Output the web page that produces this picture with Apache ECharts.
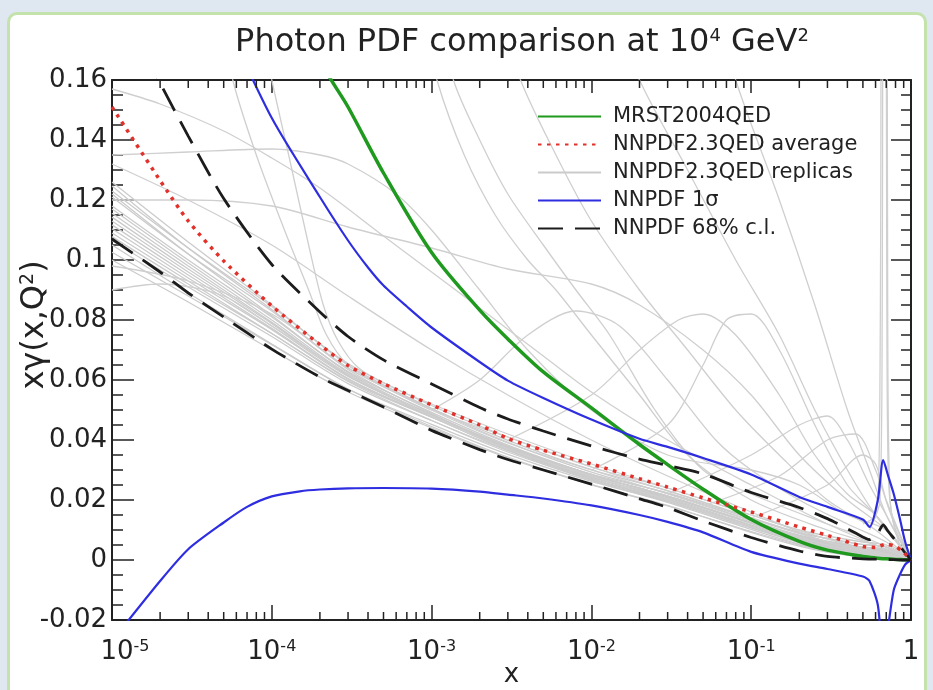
<!DOCTYPE html>
<html><head><meta charset="utf-8">
<script src="https://cdn.jsdelivr.net/npm/echarts@6/dist/echarts.min.js"></script>
<style>
html,body{margin:0;padding:0;background:#dfe8f1;width:933px;height:690px;overflow:hidden;}
#frame{position:absolute;left:7px;top:12px;width:920px;height:700px;border:3px solid #c4e2ab;border-radius:10px;background:#fff;box-sizing:border-box;}
#chart{position:absolute;left:0;top:0;width:933px;height:690px;}
</style></head><body><div id="frame"></div><div id="chart"></div>
<script>
// ---- axis settings / tick labels ----
const xMin = 1e-5, xMax = 1;
const yMin = -0.02, yMax = 0.16, yStep = 0.02;
const xTickExps = [-5, -4, -3, -2, -1, 0];
const xTickLabels = ['{f|10}{s|-5}', '10{s|-4}', '10{s|-3}', '10{s|-2}', '10{s|-1}', '1'];
const legendNames = ['MRST2004QED', 'NNPDF2.3QED average', 'NNPDF2.3QED replicas', 'NNPDF 1\u03c3', 'NNPDF 68% c.l.'];

// ---- MRST2004QED ----
const mrstX = [1e-4,2e-4,3e-4,5e-4,1e-3,2e-3,3e-3,5e-3,0.01,0.02,0.03,0.05,0.1,0.2,0.3,0.5,0.6,0.7,0.8,0.9,1];
const mrstY = [0.215,0.167,0.151,0.129,0.1025,0.0833,0.0737,0.0627,0.0507,0.0385,0.0318,0.0236,0.0135,0.0062,0.0033,0.0012,0.0007,0.0004,0.0002,0.0001,0];

// ---- NNPDF average ----
const avgX = [1e-5,2e-5,3e-5,5e-5,1e-4,2e-4,3e-4,5e-4,1e-3,2e-3,3e-3,5e-3,0.01,0.02,0.03,0.05,0.1,0.2,0.3,0.5,0.6,0.7,0.8,0.9,1];
const avgY = [0.151,0.1265,0.113,0.0997,0.0847,0.0718,0.0648,0.0588,0.0517,0.045,0.0405,0.0366,0.032,0.0271,0.0243,0.0207,0.016,0.011,0.0082,0.0045,0.0042,0.0053,0.0045,0.0025,0];

// ---- NNPDF 68% c.l. ----
const clUpperX = [1e-5,2e-5,3e-5,5e-5,1e-4,2e-4,3e-4,5e-4,1e-3,2e-3,3e-3,5e-3,0.01,0.02,0.03,0.05,0.1,0.2,0.3,0.45,0.55,0.62,0.67,0.72,0.8,0.9,1];
const clUpperY = [0.19,0.159,0.1413,0.1205,0.0985,0.0827,0.0745,0.0667,0.0587,0.0508,0.047,0.043,0.038,0.0336,0.0315,0.0287,0.0225,0.0175,0.0138,0.009,0.0068,0.009,0.0117,0.0095,0.0065,0.003,0];
const clLowerX = [1e-5,2e-5,3e-5,5e-5,1e-4,2e-4,3e-4,5e-4,1e-3,2e-3,3e-3,5e-3,0.01,0.02,0.03,0.05,0.1,0.2,0.3,0.5,0.6,0.7,0.8,0.9,1];
const clLowerY = [0.107,0.096,0.089,0.081,0.0703,0.061,0.0565,0.051,0.0432,0.0368,0.0335,0.030,0.0253,0.0204,0.0175,0.013,0.0075,0.003,0.0012,0.0004,0.0003,0.0002,0.0001,0,0];

// ---- NNPDF 1 sigma ----
const sigUpperX = [5e-5,1e-4,2e-4,3e-4,4e-4,5e-4,7e-4,1e-3,2e-3,3e-3,5e-3,0.01,0.02,0.03,0.05,0.1,0.2,0.3,0.5,0.55,0.62,0.67,0.72,0.78,0.85,0.92,1];
const sigUpperY = [0.181,0.1473,0.121,0.1065,0.0975,0.0915,0.0845,0.0775,0.066,0.0598,0.054,0.0468,0.0404,0.0377,0.034,0.0285,0.021,0.0177,0.0135,0.011,0.02,0.0333,0.028,0.022,0.014,0.006,0];
const sigLowerX = [1e-5,2e-5,3e-5,5e-5,7e-5,1e-4,1.5e-4,2e-4,3e-4,5e-4,1e-3,2e-3,3e-3,5e-3,0.01,0.02,0.03,0.05,0.1,0.2,0.3,0.5,0.55,0.62,0.67,0.72,0.78,0.85,0.92,1];
const sigLowerY = [-0.027,-0.007,0.0036,0.0125,0.0177,0.0212,0.0229,0.0235,0.0239,0.024,0.0238,0.0228,0.0218,0.0205,0.0182,0.015,0.0127,0.0092,0.0027,-0.0012,-0.003,-0.0055,-0.007,-0.015,-0.032,-0.022,-0.01,-0.005,-0.0015,0];

// ---- NNPDF replicas: dense band (values on bandX) ----
const bandX = [1e-5,3e-5,1e-4,3e-4,1e-3,3e-3,0.01,0.03,0.1,0.2,0.3,0.5,0.7,1];
const replicaBand = [
  [0.100,0.086,0.070,0.056,0.044,0.034,0.025,0.018,0.0095,0.005,0.003,0.001,0.0004,0],
  [0.105,0.089,0.072,0.057,0.0445,0.0343,0.0252,0.0182,0.0092,0.0046,0.0026,0.0009,0.0003,0],
  [0.109,0.093,0.0755,0.0595,0.0465,0.036,0.0268,0.0198,0.011,0.0062,0.0042,0.0023,0.0016,0],
  [0.113,0.096,0.078,0.0612,0.0484,0.038,0.0285,0.0214,0.0125,0.0078,0.0058,0.0038,0.0031,0],
  [0.117,0.099,0.080,0.062,0.0485,0.0375,0.0277,0.0204,0.0114,0.0066,0.0047,0.0028,0.002,0],
  [0.121,0.102,0.083,0.064,0.0505,0.0399,0.0301,0.0231,0.0141,0.0092,0.0072,0.0051,0.0043,0],
  [0.126,0.106,0.085,0.065,0.0505,0.0392,0.0293,0.0222,0.0132,0.0083,0.0063,0.0043,0.0035,0],
  [0.123,0.104,0.0845,0.0655,0.0515,0.041,0.031,0.024,0.015,0.010,0.008,0.006,0.005,0],
  [0.1117,0.095,0.0772,0.0605,0.0476,0.0372,0.0277,0.0207,0.0117,0.0070,0.0050,0.0030,0.0024,0],
  [0.1156,0.098,0.0792,0.0615,0.0478,0.0368,0.0269,0.0197,0.0107,0.0058,0.0037,0.0018,0.0012,0],
  [0.1065,0.091,0.0745,0.0588,0.0465,0.0365,0.0275,0.021,0.0125,0.008,0.006,0.0043,0.0037,0],
  [0.118,0.100,0.081,0.0628,0.0492,0.0383,0.0285,0.0212,0.0122,0.0073,0.0053,0.0033,0.0026,0],
  [0.1026,0.088,0.0718,0.057,0.0452,0.0352,0.0262,0.0195,0.0108,0.0064,0.0045,0.0027,0.0021,0],
  [0.1143,0.097,0.0788,0.0615,0.0484,0.0378,0.0283,0.0213,0.0123,0.0075,0.0055,0.0035,0.0029,0],
  [0.1078,0.092,0.0755,0.0598,0.0476,0.0378,0.0286,0.0224,0.0138,0.0090,0.0072,0.0052,0.0044,0],
  [0.122,0.102,0.0815,0.0625,0.048,0.0365,0.0265,0.0192,0.0102,0.0053,0.0033,0.0015,0.0009,0],
  [0.1104,0.094,0.0768,0.0603,0.0478,0.0375,0.0282,0.0213,0.0124,0.0078,0.0058,0.0038,0.0032,0],
  [0.1247,0.104,0.0835,0.0635,0.0488,0.0372,0.0272,0.0201,0.011,0.0063,0.0043,0.0024,0.0017,0]
];

// ---- NNPDF replicas: outliers ([x, y] pairs) ----
const replicaOutliers = [
  [[1e-5,0.157],[2e-5,0.152],[5e-5,0.143],[1e-4,0.134],[2e-4,0.124],[5e-4,0.108],[1e-3,0.096],[2e-3,0.084],[5e-3,0.068],[0.01,0.056],[0.03,0.04],[0.1,0.025],[0.3,0.012],[0.6,0.005],[1,0]],
  [[1e-5,0.135],[3e-5,0.136],[1e-4,0.137],[2e-4,0.135],[3e-4,0.132],[6e-4,0.122],[1e-3,0.11],[2e-3,0.09],[4e-3,0.07],[0.01,0.05],[0.03,0.035],[0.1,0.03],[0.2,0.025],[0.4,0.015],[0.7,0.01],[1,0]],
  [[1e-5,0.12],[3e-5,0.12],[1e-4,0.118],[3e-4,0.111],[1e-3,0.104],[3e-3,0.097],[0.01,0.092],[0.02,0.085],[0.05,0.07],[0.1,0.055],[0.2,0.035],[0.4,0.02],[0.7,0.01],[1,0]],
  [[1e-5,0.132],[3e-5,0.12],[1e-4,0.105],[3e-4,0.088],[1e-3,0.07],[3e-3,0.055],[0.01,0.04],[0.03,0.028],[0.1,0.016],[0.3,0.006],[1,0]],
  [[1e-5,0.098],[3e-5,0.093],[1e-4,0.082],[3e-4,0.064],[1e-3,0.05],[3e-3,0.039],[0.01,0.03],[0.03,0.022],[0.1,0.013],[0.3,0.005],[1,0]],
  [[1e-5,0.09],[2e-5,0.092],[5e-5,0.088],[1e-4,0.078],[3e-4,0.062],[1e-3,0.048],[3e-3,0.037],[0.01,0.028],[0.03,0.02],[0.1,0.011],[0.3,0.004],[1,0]],
  [[4e-5,0.2],[5.7e-5,0.16],[8e-5,0.135],[1.2e-4,0.11],[1.7e-4,0.09],[2.2e-4,0.075],[3e-4,0.065],[5e-4,0.058],[1e-3,0.05],[3e-3,0.041],[0.01,0.031],[0.03,0.023],[0.1,0.014],[0.3,0.006],[1,0]],
  [[7e-5,0.2],[1e-4,0.16],[1.3e-4,0.133],[1.7e-4,0.105],[2.1e-4,0.085],[2.6e-4,0.073],[3.5e-4,0.064],[6e-4,0.057],[1e-3,0.052],[3e-3,0.042],[0.01,0.032],[0.03,0.024],[0.1,0.015],[0.3,0.007],[1,0]],
  [[7e-4,0.2],[1.08e-3,0.16],[1.6e-3,0.135],[2.5e-3,0.115],[4e-3,0.1],[6e-3,0.09],[0.01,0.075],[0.02,0.055],[0.04,0.035],[0.1,0.02],[0.3,0.01],[0.6,0.005],[1,0]],
  [[9e-4,0.2],[1.37e-3,0.16],[2e-3,0.14],[3e-3,0.122],[5e-3,0.105],[8e-3,0.09],[0.013,0.075],[0.025,0.05],[0.05,0.03],[0.1,0.022],[0.3,0.012],[0.6,0.006],[1,0]],
  [[2e-3,0.2],[3.6e-3,0.16],[6e-3,0.135],[0.01,0.113],[0.02,0.09],[0.04,0.07],[0.08,0.05],[0.15,0.035],[0.3,0.02],[0.6,0.01],[1,0]],
  [[0.01,0.2],[0.02,0.16],[0.04,0.13],[0.08,0.1],[0.15,0.075],[0.25,0.05],[0.4,0.03],[0.6,0.015],[1,0]],
  [[0.05,0.2],[0.08,0.16],[0.15,0.12],[0.25,0.085],[0.4,0.05],[0.55,0.03],[0.7,0.015],[1,0]],
  [[1e-3,0.05],[2e-3,0.06],[4e-3,0.075],[8e-3,0.083],[0.015,0.078],[0.03,0.06],[0.06,0.04],[0.1,0.03],[0.2,0.02],[0.4,0.012],[0.7,0.006],[1,0]],
  [[3e-3,0.04],[0.01,0.055],[0.02,0.07],[0.035,0.08],[0.05,0.082],[0.08,0.075],[0.15,0.055],[0.25,0.035],[0.4,0.022],[0.6,0.015],[1,0]],
  [[0.01,0.03],[0.03,0.045],[0.05,0.065],[0.07,0.08],[0.1,0.082],[0.15,0.07],[0.25,0.045],[0.4,0.025],[0.6,0.015],[1,0]],
  [[0.03,0.022],[0.1,0.035],[0.2,0.045],[0.3,0.048],[0.4,0.04],[0.55,0.025],[0.7,0.015],[1,0]],
  [[0.05,0.018],[0.15,0.028],[0.3,0.04],[0.45,0.042],[0.6,0.03],[0.75,0.015],[1,0]],
  [[0.1,0.014],[0.3,0.025],[0.5,0.035],[0.6,0.032],[0.7,0.02],[1,0]],
  [[0.5,0.012],[0.6,0.015],[0.63,0.03],[0.645,0.1],[0.66,0.25],[0.69,0.25],[0.705,0.1],[0.72,0.03],[0.78,0.012],[1,0]],
  [[0.55,0.01],[0.64,0.02],[0.66,0.08],[0.675,0.3],[0.7,0.3],[0.715,0.08],[0.74,0.02],[0.85,0.005],[1,0]]
];

// ---- build ----
const FONT = 'DejaVu Sans';
const TXT = '#222';
const pairs = (xs, ys) => xs.map((x, i) => [x, ys[i]]);
const xMinorTicks = [];
for (let e = -5; e < 0; e++) for (let k = 2; k <= 9; k++) xMinorTicks.push(k * Math.pow(10, e));

function lineSeries(name, data, color, width, type, z, smooth) {
  return {
    type: 'line', name, data, xAxisIndex: 0, yAxisIndex: 0,
    showSymbol: false, symbol: 'none', smooth: smooth, silent: true, z,
    lineStyle: { color, width, type, cap: 'butt' },
    itemStyle: { color },
    emphasis: { disabled: true }
  };
}

const series = [];
replicaBand.forEach(ys => series.push(lineSeries(legendNames[2], pairs(bandX, ys), '#cbcbcb', 1.3, 'solid', 1, 0.3)));
replicaOutliers.forEach(p => series.push(lineSeries(legendNames[2], p, '#cfcfcf', 1.3, 'solid', 1, 0.3)));
series.push(lineSeries(legendNames[0], pairs(mrstX, mrstY), '#1f9a1f', 3.5, 'solid', 3, 0.3));
series.push(lineSeries(legendNames[3], pairs(sigUpperX, sigUpperY), '#2e2ee0', 2.2, 'solid', 3, 0.25));
series.push(lineSeries(legendNames[3], pairs(sigLowerX, sigLowerY), '#2e2ee0', 2.2, 'solid', 3, 0.25));
series.push(lineSeries(legendNames[4], pairs(clUpperX, clUpperY), '#1c1c1c', 2.8, [25, 12], 4, 0.25));
series.push(lineSeries(legendNames[4], pairs(clLowerX, clLowerY), '#1c1c1c', 2.8, [25, 12], 4, 0.25));
series.push(lineSeries(legendNames[1], pairs(avgX, avgY), '#e2302a', 3.5, [3.5, 5.5], 5, 0.25));
series.push({
  type: 'custom', name: 'xMinorTicks', silent: true, z: 10, clip: false,
  data: xMinorTicks.map(v => [v, yMin]),
  renderItem: (params, api) => {
    const x = api.value(0);
    const b = api.coord([x, yMin]);
    const t = api.coord([x, yMax]);
    return { type: 'group', children: [
      { type: 'line', shape: { x1: b[0], y1: b[1], x2: b[0], y2: b[1] - 8 }, style: { stroke: TXT, lineWidth: 1.5 } },
      { type: 'line', shape: { x1: t[0], y1: t[1], x2: t[0], y2: t[1] + 8 }, style: { stroke: TXT, lineWidth: 1.5 } }
    ]};
  }
});

const axisLine = { show: true, onZero: false, lineStyle: { color: TXT, width: 2 } };
const xRich = {
  s: { fontFamily: FONT, fontSize: 16, verticalAlign: 'top', color: TXT },
  f: { fontFamily: FONT, fontSize: 26, color: TXT, padding: [0, 0, 0, 26] }
};

const option = {
  animation: false,
  backgroundColor: 'transparent',
  title: {
    text: 'Photon PDF comparison at 10{s|4} GeV{s|2}',
    left: 517, top: 22, textAlign: 'center',
    textStyle: { fontFamily: FONT, fontSize: 32, fontWeight: 'normal', color: TXT,
      rich: { s: { fontFamily: FONT, fontSize: 18, verticalAlign: 'top', color: TXT } } }
  },
  legend: {
    data: legendNames, orient: 'vertical', left: 537, top: 106, padding: 0,
    itemWidth: 63, itemHeight: 20, itemGap: 7, selectedMode: false,
    itemStyle: { opacity: 0 },
    textStyle: { fontFamily: FONT, fontSize: 21, color: TXT, padding: [0, 0, 0, 7] }
  },
  grid: { left: 112, right: 22, top: 80, bottom: 70, containLabel: false, outerBoundsMode: 'none' },
  xAxis: [
    { type: 'log', logBase: 10, min: xMin, max: xMax, position: 'bottom',
      axisLine, splitLine: { show: false },
      axisTick: { show: true, inside: true, length: 15, lineStyle: { color: TXT, width: 1.5 } },
      axisLabel: { margin: 19, color: TXT, fontFamily: FONT, fontSize: 26, showMinLabel: true, showMaxLabel: true,
        formatter: v => { const e = Math.round(Math.log10(v)); const i = xTickExps.indexOf(e); return i >= 0 ? xTickLabels[i] : ''; },
        rich: xRich },
      name: 'x', nameLocation: 'middle', nameGap: 42, nameMoveOverlap: false,
      nameTextStyle: { fontFamily: FONT, fontSize: 26, color: TXT } },
    { type: 'log', logBase: 10, min: xMin, max: xMax, position: 'top',
      axisLine, splitLine: { show: false }, axisLabel: { show: false },
      axisTick: { show: true, inside: true, length: 13, lineStyle: { color: TXT, width: 1.5 } } }
  ],
  yAxis: [
    { type: 'value', min: yMin, max: yMax, interval: yStep, position: 'left',
      axisLine, splitLine: { show: false },
      axisTick: { show: true, inside: true, length: 22, lineStyle: { color: TXT, width: 1.5 } },
      minorTick: { show: true, splitNumber: 4, length: 11, lineStyle: { color: TXT, width: 1.5 } },
      axisLabel: { margin: 5, color: TXT, fontFamily: FONT, fontSize: 26,
        formatter: v => String(Math.round(v * 100) / 100) } },
    { type: 'value', min: yMin, max: yMax, interval: yStep, position: 'right',
      axisLine, splitLine: { show: false }, axisLabel: { show: false },
      axisTick: { show: true, inside: true, length: 20, lineStyle: { color: TXT, width: 1.5 } },
      minorTick: { show: true, splitNumber: 4, length: 10, lineStyle: { color: TXT, width: 1.5 } } }
  ],
  graphic: [{
    type: 'text', rotation: Math.PI / 2, z: 100,
    x: 35, y: 325,
    style: { text: 'x\u03b3(x,Q{s|2})', fontFamily: FONT, fontSize: 32, fill: TXT, align: 'center', verticalAlign: 'middle',
      rich: { s: { fontFamily: FONT, fontSize: 19, verticalAlign: 'top', fill: TXT } } }
  }],
  series
};
const chart = echarts.init(document.getElementById('chart'), null, { renderer: 'canvas' });
chart.setOption(option);
</script></body></html>
